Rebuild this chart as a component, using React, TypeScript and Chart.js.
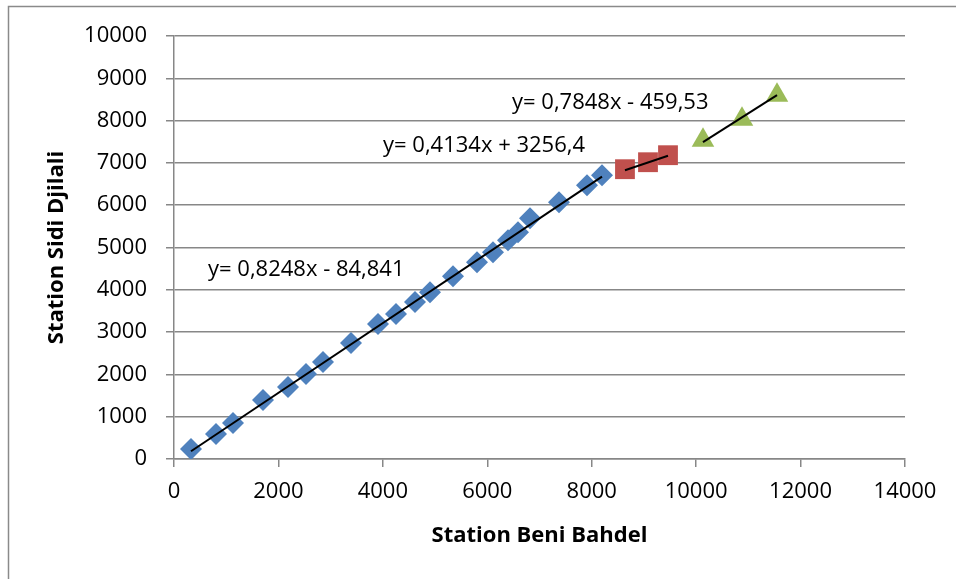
import React, { useEffect, useRef } from "react";
import { Chart, registerables } from "chart.js";

Chart.register(...registerables);

// Station Beni Bahdel (x) vs Station Sidi Djilali (y)
const blueX = [326, 804, 1130, 1705, 2183, 2528, 2854, 3390, 3907, 4252, 4616, 4903, 5343, 5803, 6109, 6397, 6588, 6818, 7374, 7910, 8197];
const blueY = [236, 591, 850, 1394, 1701, 2008, 2292, 2740, 3189, 3425, 3709, 3945, 4323, 4654, 4890, 5174, 5363, 5693, 6071, 6473, 6709];
const redX = [8637, 9078, 9461];
const redY = [6851, 7016, 7182];
const greenX = [10131, 10878, 11549];
const greenY = [7536, 8032, 8599];

// trend line coefficients [slope, intercept]
const blueFit = [0.8248, -84.841];
const redFit = [0.4134, 3256.4];
const greenFit = [0.7848, -459.53];

const eqLabels = ["y= 0,8248x - 84,841", "y= 0,4134x + 3256,4", "y= 0,7848x - 459,53"];
// label anchors in data units (left edge, vertical middle)
const eqAnchorX = [651, 4003, 6473];
const eqAnchorY = [4465, 7394, 8434];

const xTitle = "Station Beni Bahdel";
const yTitle = "Station Sidi Djilali";

const FONT = "'Open Sans', 'Liberation Sans', sans-serif";
const GRID = "#878787";

function pts(xs: number[], ys: number[]) {
  return xs.map((x, i) => ({ x, y: ys[i] }));
}
function fitLine(xs: number[], fit: number[]) {
  const lo = Math.min(...xs);
  const hi = Math.max(...xs);
  return [
    { x: lo, y: fit[0] * lo + fit[1] },
    { x: hi, y: fit[0] * hi + fit[1] },
  ];
}

export default function App() {
  const ref = useRef<HTMLCanvasElement | null>(null);

  useEffect(() => {
    if (!ref.current) return;
    const borderPlugin = {
      id: "outerBorder",
      beforeDraw(chart: any) {
        const ctx = chart.ctx;
        ctx.save();
        ctx.fillStyle = "#ffffff";
        ctx.fillRect(0, 0, chart.width, chart.height);
        ctx.strokeStyle = "#8a8a8a";
        ctx.lineWidth = 1.5;
        ctx.strokeRect(8.5, 6.5, 3000, 3000);
        ctx.restore();
      },
    };
    const eqPlugin = {
      id: "eqLabels",
      afterDatasetsDraw(chart: any) {
        const ctx = chart.ctx;
        const xs = chart.scales.x;
        const ys = chart.scales.y;
        ctx.save();
        ctx.font = `22px ${FONT}`;
        ctx.fillStyle = "#000";
        ctx.textAlign = "left";
        ctx.textBaseline = "middle";
        eqLabels.forEach((t, i) => {
          ctx.fillText(t, xs.getPixelForValue(eqAnchorX[i]), ys.getPixelForValue(eqAnchorY[i]));
        });
        ctx.restore();
      },
    };

    const plain = (v: any) => String(v);

    const chart = new Chart(ref.current, {
      type: "scatter",
      data: {
        datasets: [
          {
            type: "line",
            data: fitLine(blueX, blueFit),
            borderColor: "#000",
            borderWidth: 2,
            pointRadius: 0,
            order: 0,
          } as any,
          {
            type: "line",
            data: fitLine(redX, redFit),
            borderColor: "#000",
            borderWidth: 2,
            pointRadius: 0,
            order: 0,
          } as any,
          {
            type: "line",
            data: fitLine(greenX, greenFit),
            borderColor: "#000",
            borderWidth: 2,
            pointRadius: 0,
            order: 0,
          } as any,
          {
            data: pts(blueX, blueY),
            pointStyle: "rectRot",
            pointRadius: 11,
            backgroundColor: "#4F81BD",
            borderColor: "#4F81BD",
            borderWidth: 0,
            order: 1,
          },
          {
            data: pts(redX, redY),
            pointStyle: "rect",
            pointRadius: 14,
            backgroundColor: "#C0504D",
            borderColor: "#C0504D",
            borderWidth: 0,
            order: 1,
          },
          {
            data: pts(greenX, greenY),
            pointStyle: "triangle",
            pointRadius: 13,
            backgroundColor: "#9BBB59",
            borderColor: "#9BBB59",
            borderWidth: 0,
            order: 1,
          },
        ],
      },
      options: {
        responsive: false,
        animation: false,
        layout: { padding: { left: 0, right: 51, top: 36, bottom: 0 } },
        plugins: {
          legend: { display: false },
          tooltip: { enabled: false },
        },
        scales: {
          x: {
            type: "linear",
            min: 0,
            max: 14000,
            afterFit(scale: any) {
              scale.height = 120;
            },
            ticks: {
              stepSize: 2000,
              color: "#000",
              font: { family: FONT, size: 22 },
              padding: 12,
              maxRotation: 0,
              callback: plain,
            },
            grid: {
              drawOnChartArea: false,
              drawTicks: true,
              tickLength: 8,
              color: GRID,
              lineWidth: 1.5,
            },
            border: { display: true, color: GRID, width: 1.5 },
            title: {
              display: true,
              text: xTitle,
              color: "#000",
              font: { family: FONT, size: 22, weight: "bold" },
              padding: { top: 0, bottom: 30 },
            },
          },
          y: {
            type: "linear",
            min: 0,
            max: 10000,
            afterFit(scale: any) {
              scale.width = 174;
            },
            ticks: {
              stepSize: 1000,
              color: "#000",
              font: { family: FONT, size: 22 },
              padding: 19,
              callback: plain,
            },
            grid: {
              drawOnChartArea: true,
              drawTicks: true,
              tickLength: 8,
              color: GRID,
              lineWidth: 1.5,
            },
            border: { display: true, color: GRID, width: 1.5 },
            title: {
              display: true,
              text: yTitle,
              color: "#000",
              font: { family: FONT, size: 22, weight: "bold" },
              padding: { top: 44, bottom: 0 },
            },
          },
        },
      },
      plugins: [borderPlugin, eqPlugin],
    } as any);
    return () => chart.destroy();
  }, []);

  return (
    <canvas
      ref={ref}
      width={956}
      height={579}
      style={{ position: "fixed", left: 0, top: 0, display: "block" }}
    />
  );
}
